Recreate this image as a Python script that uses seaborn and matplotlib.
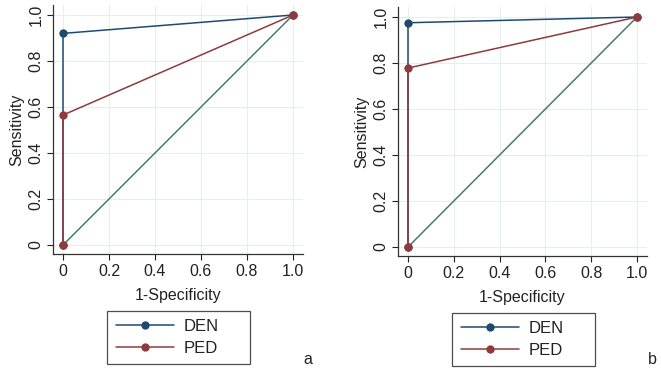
import matplotlib
matplotlib.use("Agg")
import matplotlib.pyplot as plt
import pandas as pd
import seaborn as sns

# ROC points (1-specificity, sensitivity) per panel
den_fpr = [0.0, 0.0, 1.0]
ped_fpr = [0.0, 0.0, 1.0]
den_tpr_a = [0.0, 0.92, 1.0]
ped_tpr_a = [0.0, 0.565, 1.0]
den_tpr_b = [0.0, 0.975, 1.0]
ped_tpr_b = [0.0, 0.778, 1.0]
ref_line = [0.0, 1.0]

ticks = [0, 0.2, 0.4, 0.6, 0.8, 1.0]
tick_labels = ["0", "0.2", "0.4", "0.6", "0.8", "1.0"]
panels = ["a", "b"]

colors = {"DEN": "#1f4a70", "PED": "#913a3e"}
ref_color = "#4a7d68"
fs = 11.5

sns.set_theme(style="white")
plt.rcParams["font.family"] = ["Liberation Sans", "DejaVu Sans"]

fig = plt.figure(figsize=(6.61, 3.68), dpi=100)
W, H = 661, 368
# (left, right, bottom, top) of each axes in pixels, plus x0/x1 and y0/y1 pixel positions
boxes = [
    dict(l=53, r=303, b=254, t=5, x0=63, x1=293, y0=245, y1=15),
    dict(l=398, r=647, b=256, t=7, x0=408, x1=637, y0=247, y1=17),
]
curves = [(den_tpr_a, ped_tpr_a), (den_tpr_b, ped_tpr_b)]

for box, (den_tpr, ped_tpr), tag in zip(boxes, curves, panels):
    aw = box["r"] - box["l"]
    ah = box["b"] - box["t"]
    ax = fig.add_axes([box["l"] / W, 1 - box["b"] / H, aw / W, ah / H])
    sx = box["x1"] - box["x0"]
    sy = box["y0"] - box["y1"]
    ax.set_xlim(-(box["x0"] - box["l"]) / sx, 1 + (box["r"] - box["x1"]) / sx)
    ax.set_ylim(-(box["b"] - box["y0"]) / sy, 1 + (box["y1"] - box["t"]) / sy)

    ax.plot(ref_line, ref_line, color=ref_color, lw=1.1, zorder=2)
    df = pd.DataFrame({
        "fpr": den_fpr + ped_fpr,
        "tpr": den_tpr + ped_tpr,
        "model": ["DEN"] * 3 + ["PED"] * 3,
    })
    sns.lineplot(data=df, x="fpr", y="tpr", hue="model", palette=colors,
                 sort=False, estimator=None, marker="o", markersize=6,
                 markeredgewidth=0, lw=1.1, ax=ax, legend=True, zorder=3)

    ax.set_xticks(ticks)
    ax.set_xticklabels(tick_labels)
    ax.set_yticks(ticks)
    ax.set_yticklabels(tick_labels, rotation=90, va="center")
    ax.tick_params(axis="both", labelsize=fs, colors="#222222", length=4,
                   width=0.8, direction="out", bottom=True, left=True, pad=3)
    ax.grid(True, color="#e6eef0", lw=0.8)
    for side in ["top", "right"]:
        ax.spines[side].set_visible(False)
    for side in ["left", "bottom"]:
        ax.spines[side].set_color("#333333")
        ax.spines[side].set_linewidth(0.9)
    ax.set_xlabel("1-Specificity", fontsize=fs, color="#222222", labelpad=7)
    ax.set_ylabel("Sensitivity", fontsize=fs, color="#222222", labelpad=3)

    # legend box spans 143 px wide, top 59 px below the bottom spine
    lx = 54 / aw
    ly = -59 / ah
    leg = ax.legend(loc="upper left", bbox_to_anchor=(lx, ly, 143 / aw, 0.01),
                    mode="expand", frameon=True, fancybox=False, fontsize=12,
                    handlelength=3.5, borderpad=0.52, labelspacing=0.38,
                    handletextpad=0.55, borderaxespad=0)
    leg.get_frame().set_edgecolor("#222222")
    leg.get_frame().set_linewidth(0.9)
    for t in leg.get_texts():
        t.set_color("#222222")

    fig.text((box["r"] + 5) / W, 1 - 359 / H, tag, fontsize=fs,
             color="#222222", ha="center", va="center")

fig.savefig("out.png", dpi=100, facecolor="white")
